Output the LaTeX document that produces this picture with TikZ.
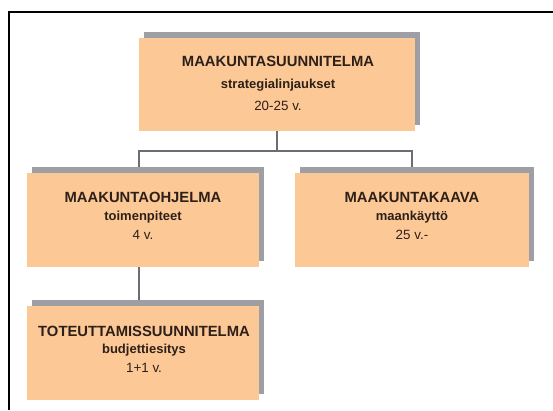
\documentclass[tikz,border=0pt]{standalone}
\usepackage{fontspec}
\setmainfont{Liberation Sans}
\usetikzlibrary{shadows,backgrounds}
\definecolor{boxfill}{RGB}{252,200,150}
\definecolor{shgrey}{RGB}{158,158,164}
\definecolor{lnc}{RGB}{108,108,116}
\definecolor{txt}{RGB}{45,32,25}
\begin{document}
\begin{tikzpicture}[x=1pt,y=-1pt,
  box/.style={draw=none, fill=boxfill, minimum width=#1, minimum height=93.5pt, inner sep=0pt,
    drop shadow={shadow xshift=5pt, shadow yshift=6pt, fill=shgrey, opacity=1}},
  ttl/.style={font=\bfseries\fontsize{14.8}{17}\selectfont, text=txt, inner sep=0pt},
  subt/.style={font=\bfseries\fontsize{13}{15}\selectfont, text=txt, inner sep=0pt},
  num/.style={font=\fontsize{13.4}{16}\selectfont, text=txt, inner sep=0pt},
  conn/.style={draw=lnc, line width=1.5pt},
  frame/.style={draw=black, line width=2.2pt}]
\useasboundingbox (0,0) rectangle (553,410);
\draw[frame] (9,410) -- (9,12) -- (553,12);

\node[box=276pt] (top) at (277,84.5) {};
\node[box=232pt] (left) at (143,220) {};
\node[box=234pt] (right) at (412,220) {};
\node[box=232pt] (bottom) at (143,353) {};

\begin{scope}[on background layer]
  \fill[white] (0,0) rectangle (553,410);
  \coordinate (junc) at (277,151);
  \draw[conn] (top.south) -- (junc);
  \draw[conn] (junc) -| ([xshift=-4pt]left.north);
  \draw[conn] (junc) -| (right.north);
  \draw[conn] ([xshift=-4pt]left.south) -- ([xshift=-4pt]bottom.north);
\end{scope}

\node[ttl] (t1) at (278,61) {MAAKUNTASUUNNITELMA};
\node[subt] (s1) at (278,85.5) {strategialinjaukset};
\node[num] (n1) at (278,106) {20-25 v.};

\node[ttl] (t2) at (143,197) {MAAKUNTAOHJELMA};
\node[subt] (s2) at (143,217) {toimenpiteet};
\node[num] (n2) at (143,235) {4 v.};

\node[ttl] (t3) at (412,197) {MAAKUNTAKAAVA};
\node[subt] (s3) at (412,217) {maankäyttö};
\node[num] (n3) at (412,235) {25 v.-};

\node[ttl] (t4) at (144,331) {TOTEUTTAMISSUUNNITELMA};
\node[subt] (s4) at (144,350) {budjettiesitys};
\node[num] (n4) at (144,368) {1+1 v.};
\end{tikzpicture}
\end{document}
